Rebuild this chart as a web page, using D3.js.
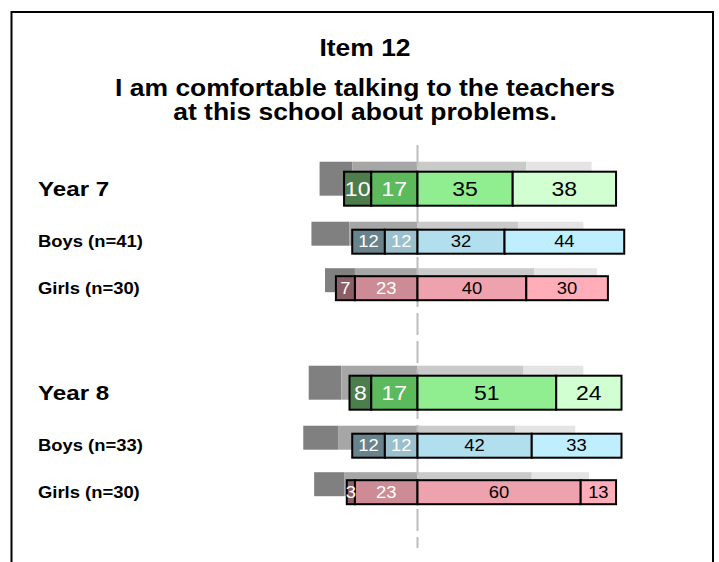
<!DOCTYPE html>
<html><head><meta charset="utf-8">
<script src="https://cdn.jsdelivr.net/npm/d3@7/dist/d3.min.js"></script>
<style>body{margin:0;background:#fff} svg{display:block;font-family:"Liberation Sans",Arial,sans-serif}</style>
</head><body><svg id="c" width="719" height="562"></svg>
<script>
// ---- data ----
const titleLines = ["Item 12", "I am comfortable talking to the teachers", "at this school about problems."];
const rowLabels = ["Year 7", "Boys (n=41)", "Girls (n=30)", "Year 8", "Boys (n=33)", "Girls (n=30)"];
const rowKinds = ["year", "boys", "girls", "year", "boys", "girls"];
const groupIndex = [0, 0, 0, 1, 1, 1];
const subIndex = [0, 1, 2, 0, 1, 2];
const categories = ["Strongly disagree", "Disagree", "Agree", "Strongly agree"];
const stronglyDisagree = [10, 12, 7, 8, 12, 3];
const disagree = [17, 12, 23, 17, 12, 23];
const agree = [35, 32, 40, 51, 42, 60];
const stronglyAgree = [38, 44, 30, 24, 33, 13];
// comparison (background) bars
const cmpStronglyDisagree = [12, 14, 11, 12, 13, 11];
const cmpDisagree = [24, 25, 23, 28, 29, 27];
const cmpAgree = [40, 37, 43, 39, 36, 42];
const cmpStronglyAgree = [24, 24, 23, 22, 22, 21];

// ---- styles ----
const palette = {
  year: ["#4d7d4d", "#5cba5c", "#90ee90", "#d1ffd1"],
  boys: ["#68838b", "#9ac0cd", "#b2dfee", "#bfefff"],
  girls: ["#8b5f65", "#cd8c95", "#eea2ad", "#ffaeb9"]
};
const grayPalette = ["#808080", "#a6a6a6", "#cacaca", "#e4e4e4"];
const textColors = ["#fff", "#fff", "#000", "#000"];
const WIDEN = 1.15;

const svg = d3.select("#c");
const x = d3.scaleLinear().domain([-100, 100]).range([145.5, 689.5]);
const groupY = d3.scaleLinear().domain([0, 1]).range([188.7, 392.7]);
const subOffset = [0, 53, 99.5];
const barH = k => k === "year" ? 34 : 24;
const shadowOff = k => k === "year" ? 10 : 8;
const yc = i => groupY(groupIndex[i]) + subOffset[subIndex[i]];

function widen(sel) {
  sel.each(function () {
    const L = this.getComputedTextLength();
    d3.select(this).attr("textLength", L * WIDEN).attr("lengthAdjust", "spacingAndGlyphs");
  });
}

function segs(a, b, c, d) {
  return [{s: -(a + b), e: -b, v: a, c: 0}, {s: -b, e: 0, v: b, c: 1},
          {s: 0, e: c, v: c, c: 2}, {s: c, e: c + d, v: d, c: 3}];
}

// frame
svg.append("rect").attr("x", 11.5).attr("y", 12).attr("width", 701.5).attr("height", 600)
  .attr("fill", "none").attr("stroke", "#000").attr("stroke-width", 2);

// title
svg.append("g").selectAll("text").data(titleLines).join("text")
  .attr("x", 365).attr("y", (d, i) => [56, 96, 120][i])
  .attr("text-anchor", "middle").attr("font-weight", "bold").attr("font-size", 23)
  .text(d => d).call(widen);

// comparison bars
rowLabels.forEach((lab, i) => {
  const k = rowKinds[i], h = barH(k);
  const top = yc(i) - h / 2 - shadowOff(k);
  svg.append("g").selectAll("rect")
    .data(segs(cmpStronglyDisagree[i], cmpDisagree[i], cmpAgree[i], cmpStronglyAgree[i]))
    .join("rect")
    .attr("x", d => x(d.s)).attr("width", d => x(d.e) - x(d.s))
    .attr("y", top).attr("height", h)
    .attr("fill", d => grayPalette[d.c]);
});

// center dashed line
svg.append("line").attr("x1", x(0)).attr("x2", x(0)).attr("y1", 145).attr("y2", 548)
  .attr("stroke", "#bdbdbd").attr("stroke-width", 2).attr("stroke-dasharray", "22,6");

// main bars
rowLabels.forEach((lab, i) => {
  const k = rowKinds[i], h = barH(k);
  const top = yc(i) - h / 2;
  const data = segs(stronglyDisagree[i], disagree[i], agree[i], stronglyAgree[i]);
  const g = svg.append("g");
  g.selectAll("rect").data(data).join("rect")
    .attr("x", d => x(d.s)).attr("width", d => x(d.e) - x(d.s))
    .attr("y", top).attr("height", h)
    .attr("fill", d => palette[k][d.c]).attr("stroke", "#000").attr("stroke-width", 2);
  g.selectAll("text").data(data).join("text")
    .attr("x", d => (x(d.s) + x(d.e)) / 2).attr("y", yc(i))
    .attr("dy", "0.36em").attr("text-anchor", "middle")
    .attr("font-size", k === "year" ? 20 : 16)
    .attr("fill", d => textColors[d.c]).text(d => d.v).call(widen);
  svg.append("text").attr("x", 38).attr("y", yc(i)).attr("dy", "0.36em")
    .attr("font-weight", "bold").attr("font-size", k === "year" ? 21 : 16)
    .text(lab).call(widen);
});
</script></body></html>
